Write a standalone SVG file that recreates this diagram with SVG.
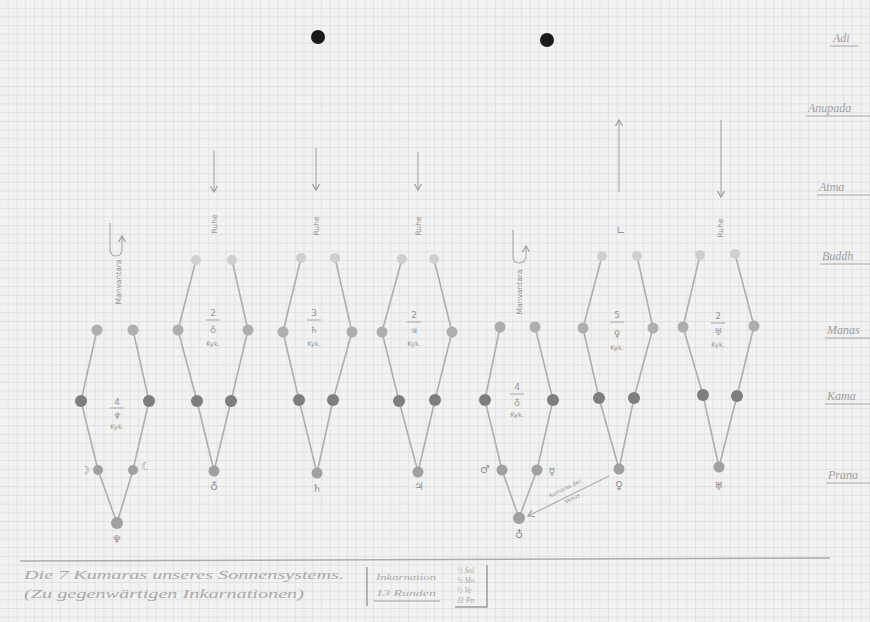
<svg xmlns="http://www.w3.org/2000/svg" width="870" height="622" viewBox="0 0 870 622">
<defs>
<pattern id="grid" width="8.7" height="8.7" patternUnits="userSpaceOnUse">
<rect width="8.7" height="8.7" fill="#f2f2f2"/>
<path d="M8.7,0 V8.7 M0,8.7 H8.7" stroke="#dcdcdc" stroke-width="1.3" fill="none"/>
</pattern>
<marker id="arr" markerWidth="8" markerHeight="8" refX="6" refY="4" orient="auto" markerUnits="userSpaceOnUse">
<path d="M0,0.5 L6,4 L0,7.5" fill="none" stroke="#9a9a9a" stroke-width="1.2"/>
</marker>
<style>
.ln{stroke:#aeaeae;stroke-width:1.6;fill:none}
.ar{stroke:#aeaeae;stroke-width:1.2;fill:none;marker-end:url(#arr)}
.b{fill:#cfcfcf}
.m{fill:#aeaeae}
.k{fill:#7e7e7e}
.p{fill:#a0a0a0}
.t{font-family:"DejaVu Sans",sans-serif;fill:#929292}
.fr{font-size:9px;text-anchor:middle}
.sm{font-size:6.5px;text-anchor:middle}
.vt{font-size:7.5px;text-anchor:middle}
.sy{font-size:11px;text-anchor:middle}
.pl{font-family:"Liberation Serif",serif;font-style:italic;fill:#9e9e9e;font-size:12px}
.ul{stroke:#a6a6a6;stroke-width:1}
.ft{font-family:"Liberation Serif",serif;font-style:italic;fill:#a8a8a8}
</style>
</defs>
<rect width="870" height="622" fill="url(#grid)"/>

<g id="punch-holes">
<circle cx="318" cy="37" r="7" fill="#1a1a1a"/>
<circle cx="547" cy="40" r="7" fill="#1a1a1a"/>
</g>

<g id="plane-labels">
<text class="pl" x="833" y="42">Adi</text><line class="ul" x1="830" y1="46" x2="858" y2="46"/>
<text class="pl" x="808" y="112">Anupada</text><line class="ul" x1="806" y1="116" x2="870" y2="116"/>
<text class="pl" x="819" y="191">Atma</text><line class="ul" x1="817" y1="195" x2="870" y2="195"/>
<text class="pl" x="822" y="260">Buddh</text><line class="ul" x1="820" y1="264" x2="870" y2="264"/>
<text class="pl" x="827" y="334">Manas</text><line class="ul" x1="825" y1="338" x2="870" y2="338"/>
<text class="pl" x="827" y="400">Kama</text><line class="ul" x1="825" y1="404" x2="870" y2="404"/>
<text class="pl" x="828" y="479">Prana</text><line class="ul" x1="826" y1="483" x2="870" y2="483"/>
</g>

<g id="connectors">
<polyline class="ln" points="97,330 81,401 98,470 117,523"/>
<polyline class="ln" points="133,330 149,401 133,470 117,523"/>
<path class="ar" d="M110,223 V248 Q110,256 116,256 Q122,256 122,248 V236"/>
<polyline class="ln" points="196,260 178,330 197,401 214,471"/>
<polyline class="ln" points="232,260 248,330 231,401 214,471"/>
<line class="ar" x1="214" y1="150" x2="214" y2="192"/>
<polyline class="ln" points="301,258 283,332 299,400 317,473"/>
<polyline class="ln" points="335,258 352,332 333,400 317,473"/>
<line class="ar" x1="316" y1="148" x2="316" y2="190"/>
<polyline class="ln" points="402,259 382,332 399,401 418,472"/>
<polyline class="ln" points="434,259 452,332 435,400 418,472"/>
<line class="ar" x1="418" y1="152" x2="418" y2="190"/>
<polyline class="ln" points="500,327 485,400 502,470 519,518"/>
<polyline class="ln" points="535,327 553,400 537,470 519,518"/>
<path class="ar" d="M513,230 V256 Q513,263 519,263 Q526,263 526,256 V246"/>
<polyline class="ln" points="602,256 583,328 599,398 619,469"/>
<polyline class="ln" points="637,256 653,328 634,398 619,469"/>
<line class="ar" x1="619" y1="192" x2="619" y2="120"/>
<line class="ar" x1="609" y1="476" x2="528" y2="516"/>
<polyline class="ln" points="700,255 683,327 703,395 719,467"/>
<polyline class="ln" points="735,254 754,326 737,396 719,467"/>
<line class="ar" x1="721" y1="120" x2="721" y2="197"/>
</g>

<g id="chain-1">
<circle class="m" cx="97" cy="330" r="5.5"/><circle class="m" cx="133" cy="330" r="5.5"/>
<circle class="k" cx="81" cy="401" r="6"/><circle class="k" cx="149" cy="401" r="6"/>
<circle class="p" cx="98" cy="470" r="5"/><circle class="p" cx="133" cy="470" r="5"/>
<circle class="p" cx="117" cy="523" r="6"/>
<text class="t vt" transform="translate(121,282) rotate(-90)">Manvantara</text>
<text class="t fr" x="117" y="405">4</text><line class="ul" x1="110" y1="408" x2="124" y2="408"/>
<text class="t fr" x="117" y="419">♆</text><text class="t sm" x="117" y="429">Kyk.</text>
<text class="t sy" x="85" y="474">☽</text><text class="t sy" x="146" y="470">☾</text>
<text class="t sy" x="117" y="543">♆</text>
</g>

<g id="chain-2">
<circle class="b" cx="196" cy="260" r="5"/><circle class="b" cx="232" cy="260" r="5"/>
<circle class="m" cx="178" cy="330" r="5.5"/><circle class="m" cx="248" cy="330" r="5.5"/>
<circle class="k" cx="197" cy="401" r="6"/><circle class="k" cx="231" cy="401" r="6"/>
<circle class="p" cx="214" cy="471" r="5.5"/>
<text class="t vt" transform="translate(217,224) rotate(-90)">Ruhe</text>
<text class="t fr" x="213" y="316">2</text><line class="ul" x1="206" y1="320" x2="220" y2="320"/>
<text class="t fr" x="213" y="333">♁</text><text class="t sm" x="213" y="346">Kyk.</text>
<text class="t sy" x="214" y="490">♁</text>
</g>

<g id="chain-3">
<circle class="b" cx="301" cy="258" r="5"/><circle class="b" cx="335" cy="258" r="5"/>
<circle class="m" cx="283" cy="332" r="5.5"/><circle class="m" cx="352" cy="332" r="5.5"/>
<circle class="k" cx="299" cy="400" r="6"/><circle class="k" cx="333" cy="400" r="6"/>
<circle class="p" cx="317" cy="473" r="5.5"/>
<text class="t vt" transform="translate(319,226) rotate(-90)">Ruhe</text>
<text class="t fr" x="314" y="316">3</text><line class="ul" x1="307" y1="320" x2="321" y2="320"/>
<text class="t fr" x="314" y="333">♄</text><text class="t sm" x="314" y="346">Kyk.</text>
<text class="t sy" x="317" y="492">♄</text>
</g>

<g id="chain-4">
<circle class="b" cx="402" cy="259" r="5"/><circle class="b" cx="434" cy="259" r="5"/>
<circle class="m" cx="382" cy="332" r="5.5"/><circle class="m" cx="452" cy="332" r="5.5"/>
<circle class="k" cx="399" cy="401" r="6"/><circle class="k" cx="435" cy="400" r="6"/>
<circle class="p" cx="418" cy="472" r="5.5"/>
<text class="t vt" transform="translate(421,226) rotate(-90)">Ruhe</text>
<text class="t fr" x="414" y="318">2</text><line class="ul" x1="407" y1="322" x2="421" y2="322"/>
<text class="t fr" x="414" y="334">♃</text><text class="t sm" x="414" y="346">Kyk.</text>
<text class="t sy" x="419" y="490">♃</text>
</g>

<g id="chain-5">
<circle class="m" cx="500" cy="327" r="5.5"/><circle class="m" cx="535" cy="327" r="5.5"/>
<circle class="k" cx="485" cy="400" r="6"/><circle class="k" cx="553" cy="400" r="6"/>
<circle class="p" cx="502" cy="470" r="5.5"/><circle class="p" cx="537" cy="470" r="5.5"/>
<circle class="p" cx="519" cy="518" r="6"/>
<text class="t vt" transform="translate(522,292) rotate(-90)">Manvantara</text>
<text class="t fr" x="517" y="390">4</text><line class="ul" x1="510" y1="394" x2="524" y2="394"/>
<text class="t fr" x="517" y="406">♁</text><text class="t sm" x="517" y="417">Kyk.</text>
<text class="t sy" x="485" y="473">♂</text><text class="t sy" x="552" y="475">☿</text>
<text class="t sy" x="519" y="538">♁</text>
</g>

<g id="chain-6">
<circle class="b" cx="602" cy="256" r="5"/><circle class="b" cx="637" cy="256" r="5"/>
<circle class="m" cx="583" cy="328" r="5.5"/><circle class="m" cx="653" cy="328" r="5.5"/>
<circle class="k" cx="599" cy="398" r="6"/><circle class="k" cx="634" cy="398" r="6"/>
<circle class="p" cx="619" cy="469" r="5.5"/>
<text class="t sy" x="621" y="234">∟</text>
<text class="t fr" x="617" y="318">5</text><line class="ul" x1="610" y1="322" x2="624" y2="322"/>
<text class="t fr" x="617" y="337">♀</text><text class="t sm" x="617" y="350">Kyk.</text>
<text class="t sy" x="619" y="489">♀</text>
<text class="t" font-size="5.5" transform="translate(566,490) rotate(-26)" text-anchor="middle">Kumaras der</text>
<text class="t" font-size="5.5" transform="translate(573,500) rotate(-26)" text-anchor="middle">Venus</text>
</g>

<g id="chain-7">
<circle class="b" cx="700" cy="255" r="5"/><circle class="b" cx="735" cy="254" r="5"/>
<circle class="m" cx="683" cy="327" r="5.5"/><circle class="m" cx="754" cy="326" r="5.5"/>
<circle class="k" cx="703" cy="395" r="6"/><circle class="k" cx="737" cy="396" r="6"/>
<circle class="p" cx="719" cy="467" r="5.5"/>
<text class="t vt" transform="translate(723,228) rotate(-90)">Ruhe</text>
<text class="t fr" x="718" y="319">2</text><line class="ul" x1="711" y1="323" x2="725" y2="323"/>
<text class="t fr" x="718" y="335">♅</text><text class="t sm" x="718" y="347">Kyk.</text>
<text class="t sy" x="719" y="490">♅</text>
</g>

<g id="footer">
<line x1="20" y1="561" x2="830" y2="558" stroke="#acacac" stroke-width="1.5"/>
<text class="ft" x="24" y="579" font-size="12.5" textLength="320" lengthAdjust="spacingAndGlyphs">Die 7 Kumaras unseres Sonnensystems.</text>
<text class="ft" x="24" y="598" font-size="12" textLength="280" lengthAdjust="spacingAndGlyphs">(Zu gegenwärtigen Inkarnationen)</text>
<line x1="367" y1="567" x2="367" y2="606" stroke="#9e9e9e" stroke-width="1.5"/>
<text class="ft" x="376" y="580" font-size="9" textLength="60" lengthAdjust="spacingAndGlyphs">Inkarnation</text>
<text class="ft" x="376" y="596" font-size="9" textLength="60" lengthAdjust="spacingAndGlyphs">13 Runden</text>
<line x1="374" y1="601" x2="440" y2="601" stroke="#9e9e9e" stroke-width="1.2"/>
<text class="ft" x="457" y="573" font-size="7.5">½ Sol</text>
<text class="ft" x="457" y="583" font-size="7.5">½ Mo</text>
<text class="ft" x="457" y="593" font-size="7.5">½ Ve</text>
<text class="ft" x="457" y="603" font-size="7.5">11 Pn</text>
<polyline points="455,607 487,607 487,565" fill="none" stroke="#9e9e9e" stroke-width="1.5"/>
</g>
</svg>
